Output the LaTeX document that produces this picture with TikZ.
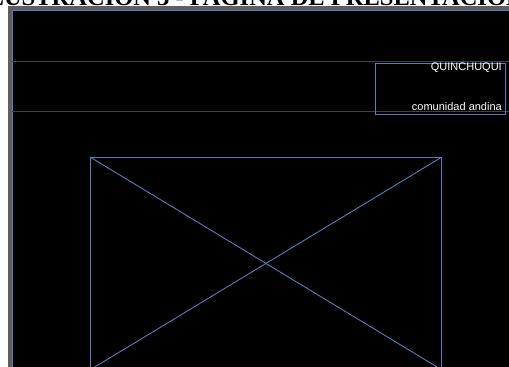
\documentclass[tikz,border=0pt]{standalone}
\usepackage{fontspec}
\setmainfont{Liberation Serif}
\setsansfont{Liberation Sans}
\usetikzlibrary{positioning}
\definecolor{officeblue}{RGB}{79,129,189}
\definecolor{framegray}{RGB}{95,95,95}
\definecolor{rulegray}{RGB}{64,64,64}

\begin{document}
\begin{tikzpicture}[
    x=1pt, y=-1pt,
    outline/.style={draw=officeblue, line width=0.9pt, inner sep=0pt},
    rule/.style={draw=rulegray, line width=1pt},
    logotext/.style={font=\sffamily\fontsize{11}{11}\selectfont, text=white, inner sep=0pt, anchor=base east}
]
    \useasboundingbox (0,0) rectangle (509,367);
    \clip (0,0) rectangle (509,367);

    % Title (cut off by the page)
    \node[font=\bfseries\fontsize{24.5}{24.5}\selectfont, anchor=base, inner sep=0pt] (title) at (251,5.5) {ILUSTRACION 3 - PAGINA DE PRESENTACION};

    % Screen
    \fill[framegray] (8,6) rectangle (509,367);
    \fill[black] (12,10.5) rectangle (509,367);
    \draw[officeblue, line width=0.8pt] (12,367) -- (12,10.5) -- (509,10.5);

    % Header rules
    \draw[rule] (12,61) -- (509,61);
    \draw[rule] (12,111) -- (509,111);

    % Logo box
    \node[outline, minimum width=130, minimum height=51, anchor=north west] (logo) at (374.5,63) {};
    \node[logotext] (place) at (502,70.5) {QUINCHUQUI};
    \node[logotext] (community) at (502,110) {comunidad andina};

    % Picture placeholder
    \node[outline, minimum width=351, minimum height=212, anchor=north west] (photo) at (90,157) {};
    \draw[officeblue, line width=0.9pt] (photo.north west) -- (photo.south east);
    \draw[officeblue, line width=0.9pt] (photo.north east) -- (photo.south west);
\end{tikzpicture}
\end{document}
